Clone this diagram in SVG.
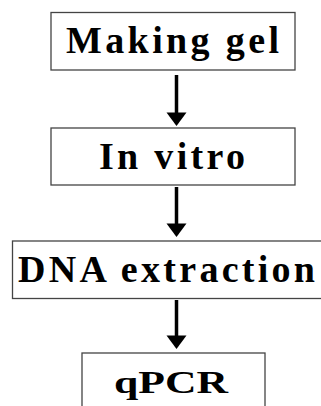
<svg xmlns="http://www.w3.org/2000/svg" xmlns:xlink="http://www.w3.org/1999/xlink" width="321" height="406" viewBox="0 0 321 406">
<style>
.box{fill:#fff;stroke:#444;stroke-width:1.3}
.lbl{font-family:"Liberation Serif","Times New Roman",serif;font-weight:bold;font-size:38px;fill:#000}
.shaft{stroke:#000;stroke-width:3.5;fill:none}
</style>
<defs>
<path id="head" d="M-10,0 L10,0 L0,13.5 Z" fill="#000"/>
</defs>
<rect width="321" height="406" fill="#fff"/>
<g id="connectors">
<line class="shaft" x1="176.5" y1="75" x2="176.5" y2="114"/>
<use xlink:href="#head" x="176.5" y="112.5"/>
<line class="shaft" x1="176.5" y1="187" x2="176.5" y2="225"/>
<use xlink:href="#head" x="176.5" y="223.5"/>
<line class="shaft" x1="176.5" y1="300" x2="176.5" y2="337"/>
<use xlink:href="#head" x="176.5" y="335.5"/>
</g>
<g id="making-gel">
<rect class="box" x="51" y="12.5" width="244" height="57.5"/>
<text class="lbl" x="66" y="53" textLength="213">Making gel</text>
</g>
<g id="in-vitro">
<rect class="box" x="51" y="128" width="244" height="57"/>
<text class="lbl" x="99" y="169" textLength="146">In vitro</text>
</g>
<g id="dna-extraction">
<rect class="box" x="12.5" y="241" width="320" height="57.5"/>
<text class="lbl" x="18" y="282" textLength="297">DNA extraction</text>
</g>
<g id="qpcr">
<rect class="box" x="82" y="353" width="183" height="60"/>
<text class="lbl" x="114" y="393" font-size="32" style="font-size:32px" textLength="114" lengthAdjust="spacingAndGlyphs">qPCR</text>
</g>
</svg>
